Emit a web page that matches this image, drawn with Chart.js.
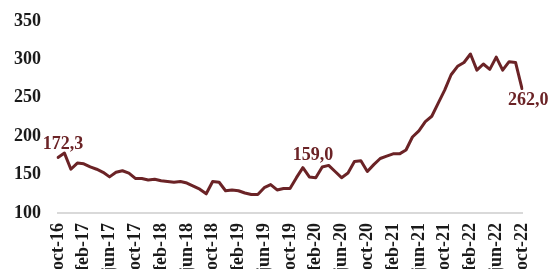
<!DOCTYPE html>
<html>
<head>
<meta charset="utf-8">
<script src="https://cdn.jsdelivr.net/npm/chart.js@4.4.1/dist/chart.umd.min.js"></script>
<style>
  html, body { margin: 0; padding: 0; background: #fff; }
  #wrap { width: 549px; height: 269px; }
</style>
</head>
<body>
<div id="wrap"><canvas id="myChart"></canvas></div>
<script>
// monthly index, oct-16 .. oct-22
const monthNames = ['ene','feb','mar','abr','may','jun','jul','ago','sep','oct','nov','dic'];
const categories = [];
for (let i = 0; i < 73; i++) {
  categories.push(monthNames[(9 + i) % 12] + '-' + (16 + Math.floor((9 + i) / 12)));
}

const values = [
  172.3, 178, 157, 165, 164, 160, 157, 153, 147, 153, 155, 152,
  145, 145, 143, 144, 142, 141, 140, 141, 139, 135, 131, 125,
  141, 140, 129, 130, 129, 126, 124, 124, 133, 137, 130, 132,
  132, 146, 159.0, 147, 146, 160, 162, 154, 146, 152, 167, 168,
  154, 163, 171, 174, 177, 177, 182, 199, 207, 219, 226, 243,
  260, 280, 291, 296, 307, 286, 294, 287, 303, 286, 297, 296,
  262.0
];

const yTicks = [100, 150, 200, 250, 300, 350];
const labelledPoints = [0, 38, 72];

const lineColor = '#6b2326';
const serif = '"Liberation Serif", "DejaVu Serif", serif';

// where each value label sits relative to its point (alphabetic baseline)
const labelOffsets = {
  0:  { dx: 5,   dy: -8,  align: 'center' },
  38: { dx: 10,  dy: -8,  align: 'center' },
  72: { dx: -14, dy: 16,  align: 'left' }
};

const valueLabels = {
  id: 'valueLabels',
  afterDatasetsDraw(chart) {
    const ctx = chart.ctx;
    const meta = chart.getDatasetMeta(0);
    ctx.save();
    ctx.font = 'bold 18px ' + serif;
    ctx.fillStyle = lineColor;
    ctx.textBaseline = 'alphabetic';
    labelledPoints.forEach(idx => {
      const pt = meta.data[idx];
      const o = labelOffsets[idx];
      ctx.textAlign = o.align;
      const txt = values[idx].toFixed(1).replace('.', ',');
      ctx.fillText(txt, pt.x + o.dx, pt.y + o.dy);
    });
    ctx.restore();
  }
};

const ctx = document.getElementById('myChart').getContext('2d');
const myChart = new Chart(ctx, {
  type: 'line',
  data: {
    labels: categories,
    datasets: [{
      data: values,
      borderColor: lineColor,
      backgroundColor: lineColor,
      borderWidth: 3,
      borderJoinStyle: 'round',
      borderCapStyle: 'round',
      pointRadius: 0,
      tension: 0,
      fill: false
    }]
  },
  options: {
    responsive: true,
    maintainAspectRatio: false,
    animation: false,
    layout: { padding: { top: 21, right: 27, left: 0, bottom: 0 } },
    scales: {
      y: {
        min: 100,
        max: 350,
        afterFit: s => { s.width = 58; s.paddingTop = 0; s.paddingBottom = 0; },
        afterBuildTicks: s => { s.ticks = yTicks.map(v => ({ value: v })); },
        grid: { display: false, drawTicks: false },
        border: { display: false },
        ticks: {
          padding: 17,
          color: '#1a1a1a',
          font: { family: serif, size: 18, weight: 'bold' }
        }
      },
      x: {
        offset: false,
        afterFit: s => { s.height = 56; s.paddingLeft = 0; s.paddingRight = 0; },
        grid: { display: false, drawTicks: false },
        border: { display: true, color: '#d9d9d9', width: 2 },
        ticks: {
          autoSkip: false,
          minRotation: 90,
          maxRotation: 90,
          padding: 10,
          color: '#1a1a1a',
          font: { family: serif, size: 18, weight: 'bold' },
          callback: (val, idx) => idx % 4 === 0 ? categories[idx] : ''
        }
      }
    },
    plugins: {
      legend: { display: false },
      tooltip: { enabled: false }
    }
  },
  plugins: [valueLabels]
});
</script>
</body>
</html>
